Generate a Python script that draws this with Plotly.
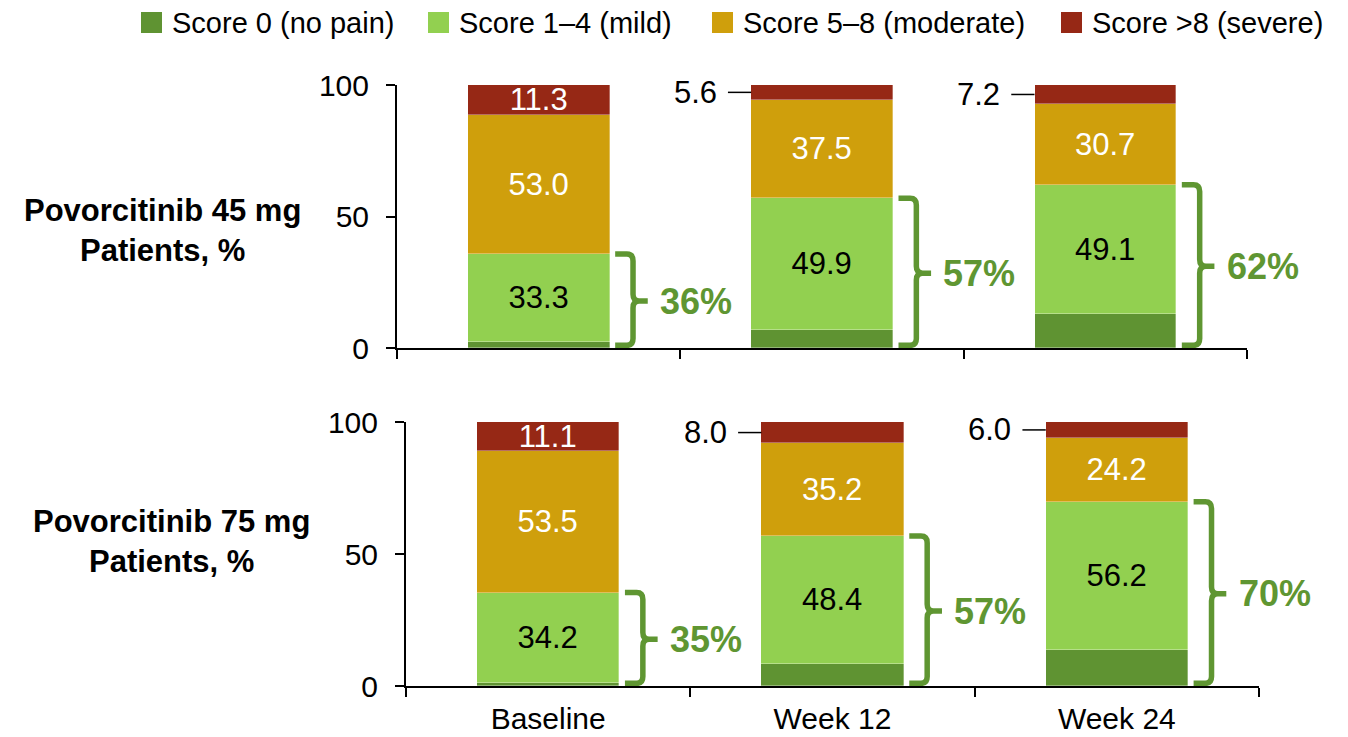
import plotly.graph_objects as go

# ---- data -------------------------------------------------------------
timepoints = ["Baseline", "Week 12", "Week 24"]
series_names = ["Score 0 (no pain)", "Score 1–4 (mild)",
                "Score 5–8 (moderate)", "Score >8 (severe)"]

dose45_no_pain = [2.4, 7.0, 13.0]
dose45_mild = [33.3, 49.9, 49.1]
dose45_moderate = [53.0, 37.5, 30.7]
dose45_severe = [11.3, 5.6, 7.2]

dose75_no_pain = [1.2, 8.4, 13.6]
dose75_mild = [34.2, 48.4, 56.2]
dose75_moderate = [53.5, 35.2, 24.2]
dose75_severe = [11.1, 8.0, 6.0]

panel_labels = [("Povorcitinib 45 mg", "Patients, %"),
                ("Povorcitinib 75 mg", "Patients, %")]
y_ticks = [0, 50, 100]

# ---- styling ----------------------------------------------------------
W, H = 1348, 737
FONT = "Liberation Sans, Arial, sans-serif"
COLORS = ["#5f9332", "#92d050", "#cf9f0c", "#962815"]
LABEL_COLORS = [None, "black", "white", "white"]
BRACKET_GREEN = "#5f9632"
BAR_W = 0.5


def px_x(p):
    return p / W


def px_y(p):
    return 1 - p / H


panels = [
    dict(series=[dose45_no_pain, dose45_mild, dose45_moderate, dose45_severe],
         xa="x", ya="y", xdom=[397, 1247], ydom=[85, 348],
         label_x=162, label_y=[211, 250], ticklabels=False),
    dict(series=[dose75_no_pain, dose75_mild, dose75_moderate, dose75_severe],
         xa="x2", ya="y2", xdom=[406, 1259], ydom=[422, 686],
         label_x=171, label_y=[521, 561], ticklabels=True),
]

fig = go.Figure()
shapes = []
annotations = []
xs = list(range(len(timepoints)))

for pi, p in enumerate(panels):
    for k, (name, vals) in enumerate(zip(series_names, p["series"])):
        if LABEL_COLORS[k] is None:
            txt = ["" for _ in vals]
        else:
            txt = [f"{v:.1f}" if v >= 10 else "" for v in vals]
        fig.add_trace(go.Bar(
            x=xs, y=vals, name=name, width=BAR_W,
            xaxis=p["xa"], yaxis=p["ya"],
            marker=dict(color=COLORS[k], line=dict(width=0.6, color="rgba(255,255,255,0.55)")),
            text=txt, textposition="inside", insidetextanchor="middle",
            textangle=0, constraintext="none",
            textfont=dict(family=FONT, size=31, color=LABEL_COLORS[k] or "black"),
            showlegend=False, hoverinfo="skip",
        ))

    no_pain, mild, moderate, severe = p["series"]
    xref, yref = p["xa"], p["ya"]
    for i in xs:
        # small severe segment: value written beside the bar with a leader line
        if severe[i] < 10:
            yc = 100 - severe[i] / 2
            left = i - BAR_W / 2
            shapes.append(dict(type="line", xref=xref, yref=yref,
                               x0=left - 0.082, x1=left, y0=yc, y1=yc,
                               line=dict(color="black", width=1.5)))
            annotations.append(dict(x=left - 0.115, y=yc, xref=xref, yref=yref,
                                    text=f"{severe[i]:.1f}", showarrow=False,
                                    xanchor="right", yanchor="middle",
                                    font=dict(family=FONT, size=31, color="black")))

        # bracket spanning no-pain + mild
        total = no_pain[i] + mild[i]
        right = i + BAR_W / 2
        x_s = right + 0.02
        x_v = right + 0.083
        x_n = right + 0.135
        rx, ry = 0.022, 2.6
        top, bot, mid = total, 1.0, total / 2
        path = (f"M{x_s},{top} L{x_v - rx},{top} Q{x_v},{top} {x_v},{top - ry} "
                f"L{x_v},{mid + ry} Q{x_v},{mid} {x_v + rx},{mid} L{x_n},{mid} "
                f"M{x_v + rx},{mid} Q{x_v},{mid} {x_v},{mid - ry} "
                f"L{x_v},{bot + ry} Q{x_v},{bot} {x_v - rx},{bot} L{x_s},{bot}")
        shapes.append(dict(type="path", xref=xref, yref=yref, path=path,
                           line=dict(color=BRACKET_GREEN, width=5.5)))
        annotations.append(dict(x=x_n + 0.036, y=mid, xref=xref, yref=yref,
                                text=f"<b>{round(total):d}%</b>", showarrow=False,
                                xanchor="left", yanchor="middle",
                                font=dict(family=FONT, size=36, color=BRACKET_GREEN)))

    # panel title on the left
    for line, ly in zip(panel_labels[pi], p["label_y"]):
        annotations.append(dict(x=px_x(p["label_x"]), y=px_y(ly), xref="paper", yref="paper",
                                text=f"<b>{line}</b>", showarrow=False,
                                xanchor="center", yanchor="middle",
                                font=dict(family=FONT, size=31, color="black")))

# legend drawn as swatches + labels across the top
legend_left = [141, 428, 712, 1061]
for k, name in enumerate(series_names):
    x0 = legend_left[k]
    shapes.append(dict(type="rect", xref="paper", yref="paper",
                       x0=px_x(x0), x1=px_x(x0 + 21), y0=px_y(33), y1=px_y(12),
                       fillcolor=COLORS[k], line=dict(width=0)))
    annotations.append(dict(x=px_x(x0 + 29), y=px_y(23), xref="paper", yref="paper",
                            text=name, showarrow=False, xanchor="left", yanchor="middle",
                            font=dict(family=FONT, size=29, color="black")))


def x_axis(p):
    return dict(domain=[px_x(p["xdom"][0]), px_x(p["xdom"][1])],
                anchor=p["ya"], range=[-0.5, len(timepoints) - 0.5],
                tickmode="array", tickvals=xs, ticktext=timepoints,
                showticklabels=p["ticklabels"], ticks="",
                tickfont=dict(family=FONT, size=30, color="black"),
                ticklabelstandoff=5, automargin=False,
                minor=dict(tickmode="array",
                           tickvals=[v - 0.5 for v in xs] + [xs[-1] + 0.5],
                           ticks="outside", ticklen=9, tickwidth=2, tickcolor="black",
                           showgrid=False),
                showline=True, linecolor="black", linewidth=2,
                showgrid=False, zeroline=False, fixedrange=True)


def y_axis(p):
    return dict(domain=[px_y(p["ydom"][1]), px_y(p["ydom"][0])],
                anchor=p["xa"], range=[0, 100],
                tickmode="array", tickvals=y_ticks,
                ticks="outside", ticklen=9, tickwidth=2, tickcolor="black",
                tickfont=dict(family=FONT, size=30, color="black"),
                ticklabelstandoff=11, automargin=False,
                showline=True, linecolor="black", linewidth=2,
                showgrid=False, zeroline=False, fixedrange=True)


fig.update_layout(
    width=W, height=H,
    barmode="stack", bargap=0,
    margin=dict(l=0, r=0, t=0, b=0, autoexpand=False),
    paper_bgcolor="white", plot_bgcolor="white",
    xaxis=x_axis(panels[0]), yaxis=y_axis(panels[0]),
    xaxis2=x_axis(panels[1]), yaxis2=y_axis(panels[1]),
    shapes=shapes, annotations=annotations,
    showlegend=False,
    font=dict(family=FONT, color="black"),
)

fig.write_html("out.html")
